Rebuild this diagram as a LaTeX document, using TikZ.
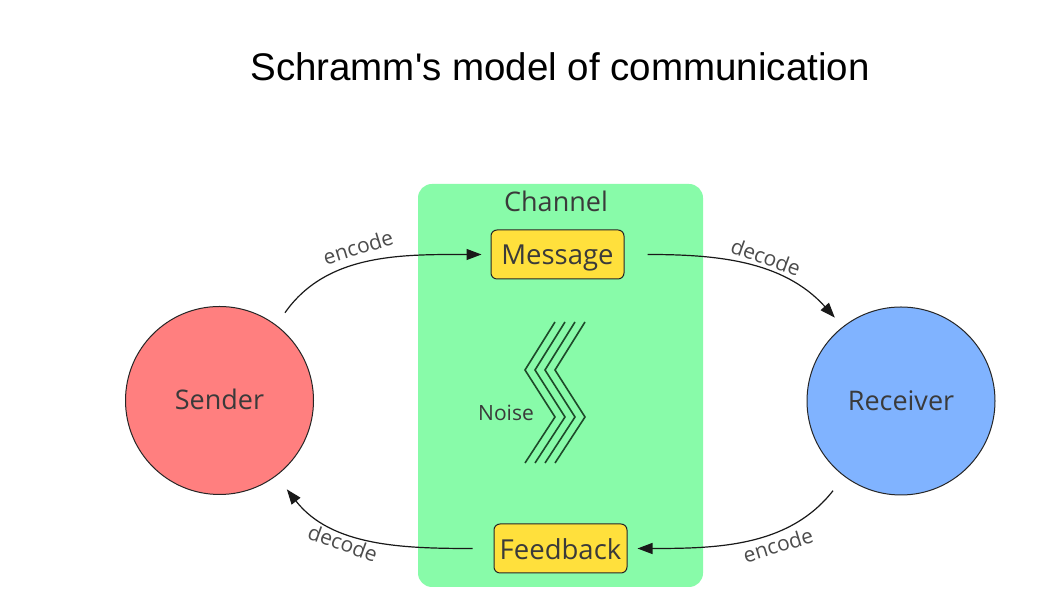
\documentclass[tikz,border=0pt]{standalone}
\usepackage{fontspec}
\setmainfont{Open Sans}
\newfontfamily\titlefont{Liberation Sans}
\usetikzlibrary{arrows.meta}
\definecolor{chgreen}{HTML}{88FBA9}
\definecolor{sendred}{HTML}{FF7F7F}
\definecolor{recblue}{HTML}{80B3FF}
\definecolor{msgyellow}{HTML}{FFE03C}
\definecolor{txtgray}{HTML}{3A3A3A}
\definecolor{noisegreen}{HTML}{1E4A2A}
\tikzset{
  person/.style={circle, draw=black!85, line width=1pt, minimum size=188pt, inner sep=0pt, text=txtgray, font=\fontsize{27}{30}\selectfont},
  msgbox/.style={rectangle, rounded corners=6pt, draw=black!85, line width=1pt, fill=msgyellow, minimum width=133pt, minimum height=49pt, inner sep=0pt, text=txtgray, font=\fontsize{27.5}{30}\selectfont},
  arr/.style={-{Triangle[length=15pt,width=11pt]}, line width=1.2pt, black!90},
  lbl/.style={text=black!70, font=\fontsize{21}{23}\selectfont, inner sep=0pt},
  noiseline/.style={line width=1.6pt, noisegreen},
}
\begin{document}
\begin{tikzpicture}[x=1pt,y=1pt]
\useasboundingbox (0,0) rectangle (1053,609);
\fill[white] (0,0) rectangle (1053,609);
% title
\node[anchor=base, font=\titlefont\fontsize{38.5}{42}\selectfont] (title) at (560,528) {Schramm's model of communication};
% channel
\fill[chgreen, rounded corners=14pt] (418,22) rectangle (703,425);
\node[anchor=base, text=txtgray, font=\fontsize{27}{30}\selectfont] (channel) at (556,397) {Channel};
\node[msgbox, text height=24pt, text depth=3pt] (message) at (557.5,354.5) {Message};
\node[msgbox, text height=22pt, text depth=0pt] (feedback) at (560.5,60.5) {Feedback};
% people
\node[person, fill=sendred, text height=21pt, text depth=3pt] (sender) at (219.5,208.5) {Sender};
\node[person, fill=recblue] (receiver) at (901,208) {Receiver};
% noise
\foreach \i in {0,1,2,3}{
  \draw[noiseline, line join=miter] (555+10*\i,287) -- (525+10*\i,239) -- (555+10*\i,192) -- (525+10*\i,146);
}
\node[lbl, text=txtgray] (noise) at (506,196) {Noise};
% arrows
\draw[arr, shorten <=15pt, shorten >=9pt] (sender.53) to[out=55, in=180] (message.west);
\draw[arr, shorten <=23pt, shorten >=12pt] (message.east) to[out=0, in=132] (receiver.128);
\draw[arr, shorten <=18pt, shorten >=10pt] (receiver.233) to[out=232, in=0] (feedback.east);
\draw[arr, shorten <=21pt, shorten >=17pt] (feedback.west) to[out=180, in=-52] (sender.-53);
% labels
\node[lbl, rotate=17] (enc1) at (358,362) {encode};
\node[lbl, rotate=-20] (dec1) at (766,352) {decode};
\node[lbl, rotate=17] (enc2) at (778,64) {encode};
\node[lbl, rotate=-20] (dec2) at (343,66) {decode};
\end{tikzpicture}
\end{document}
